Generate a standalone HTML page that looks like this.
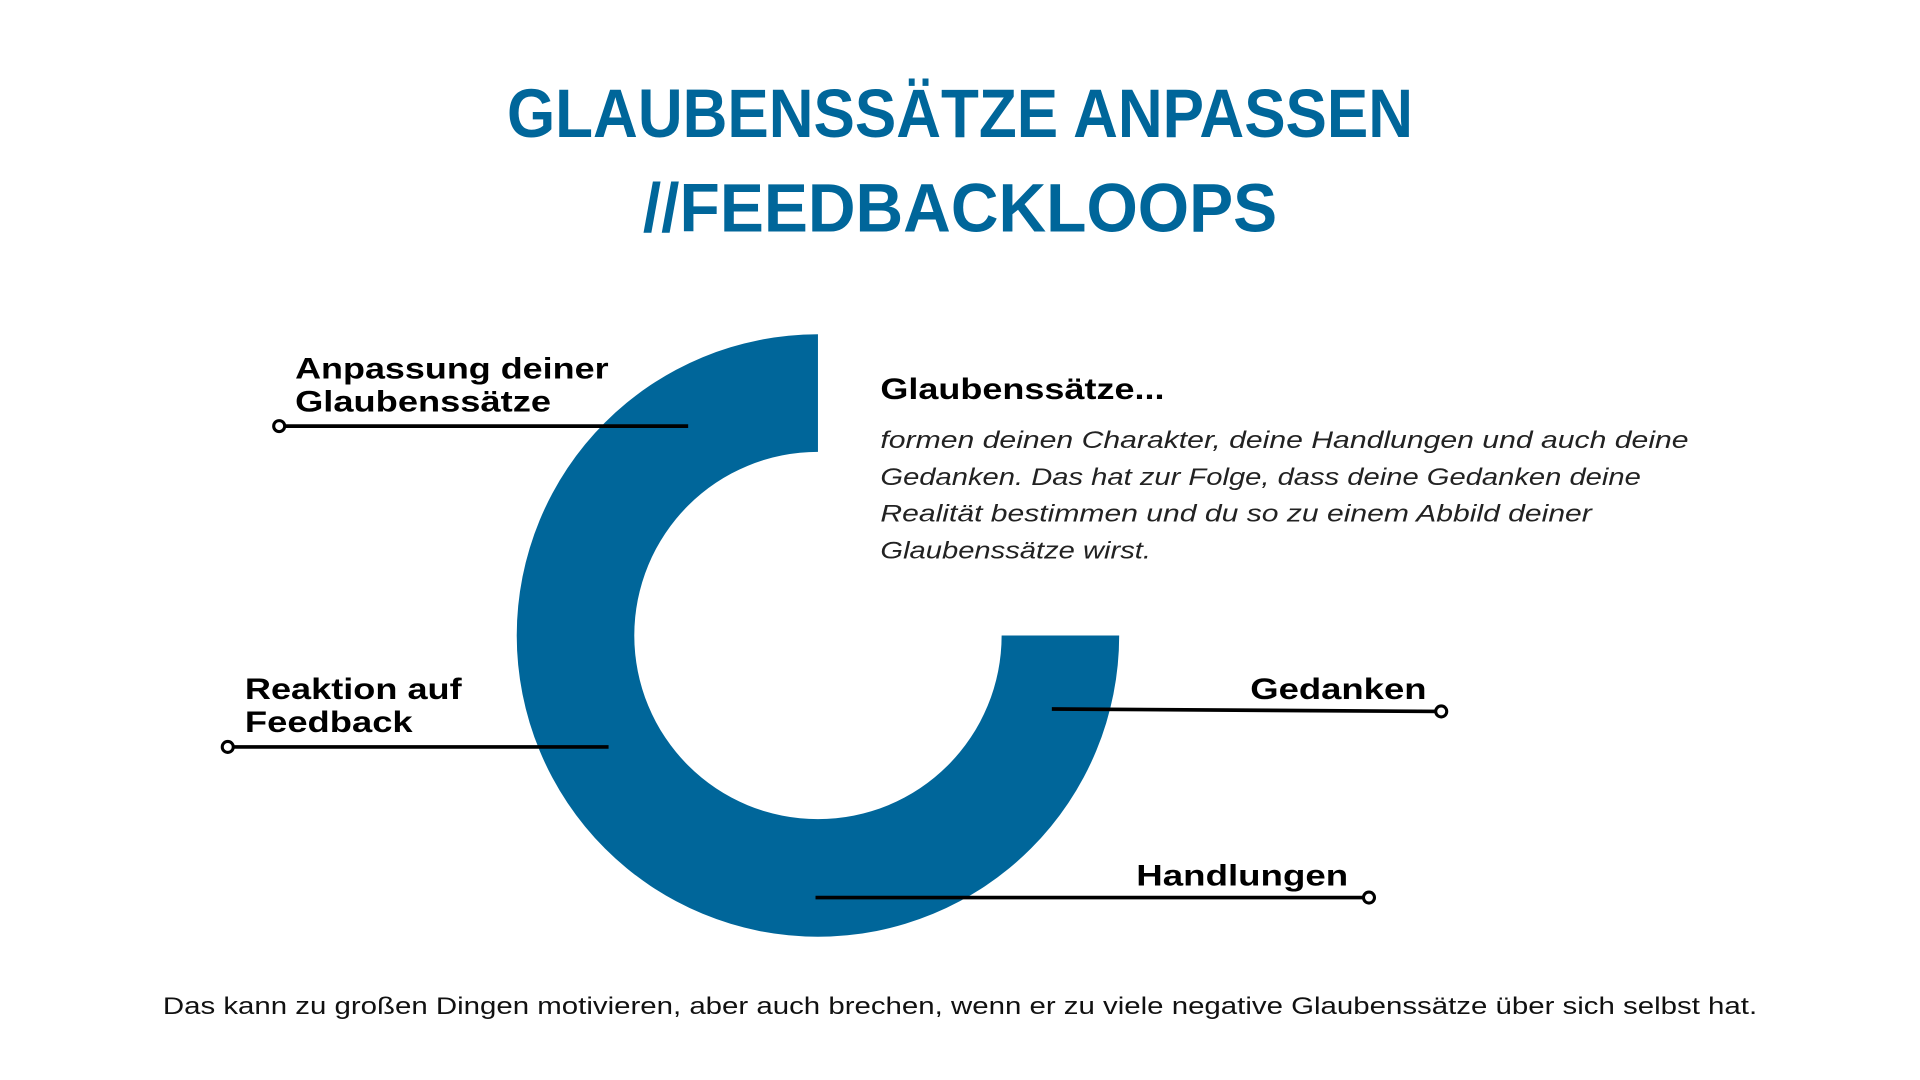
<!DOCTYPE html>
<html><head><meta charset="utf-8"><style>
html,body{margin:0;padding:0;background:#fff;width:1920px;height:1080px;overflow:hidden}
svg{display:block}
text{font-family:"Liberation Sans",sans-serif}
</style></head><body>
<svg id="chart" width="1920" height="1080" viewBox="0 0 1568 882" xmlns="http://www.w3.org/2000/svg">
<rect width="1568" height="882" fill="#fff"/>
<g fill="#00669a" font-weight="bold">
<text x="784" y="112" text-anchor="middle" font-size="56" textLength="740" lengthAdjust="spacingAndGlyphs">GLAUBENSSÄTZE ANPASSEN</text>
<text x="784" y="189" text-anchor="middle" font-size="56" textLength="518" lengthAdjust="spacingAndGlyphs">//FEEDBACKLOOPS</text>
</g>
<g id="donut"></g>
<g stroke="#000" stroke-width="3">
<line x1="228" y1="348" x2="562" y2="348"/>
<circle cx="228" cy="348" r="4.5" fill="#fff" stroke-width="2.5"/>
<line x1="186" y1="610" x2="497" y2="610"/>
<circle cx="186" cy="610" r="4.5" fill="#fff" stroke-width="2.5"/>
<line x1="859" y1="579" x2="1177" y2="581"/>
<circle cx="1177" cy="581" r="4.5" fill="#fff" stroke-width="2.5"/>
<line x1="666" y1="733" x2="1118" y2="733"/>
<circle cx="1118" cy="733" r="4.5" fill="#fff" stroke-width="2.5"/>
</g>
<g font-weight="bold" font-size="24" fill="#000">
<text x="241" y="309" textLength="256" lengthAdjust="spacingAndGlyphs">Anpassung deiner</text>
<text x="241" y="336" textLength="209" lengthAdjust="spacingAndGlyphs">Glaubenssätze</text>
<text x="200" y="571" textLength="177" lengthAdjust="spacingAndGlyphs">Reaktion auf</text>
<text x="200" y="598" textLength="137" lengthAdjust="spacingAndGlyphs">Feedback</text>
<text x="1021" y="571" textLength="144" lengthAdjust="spacingAndGlyphs">Gedanken</text>
<text x="928" y="723" textLength="173" lengthAdjust="spacingAndGlyphs">Handlungen</text>
<text x="719" y="326" textLength="232" lengthAdjust="spacingAndGlyphs">Glaubenssätze...</text>
</g>
<g font-style="italic" font-size="20" fill="#222">
<text x="719" y="366" textLength="660" lengthAdjust="spacingAndGlyphs">formen deinen Charakter, deine Handlungen und auch deine</text>
<text x="719" y="396" textLength="621" lengthAdjust="spacingAndGlyphs">Gedanken. Das hat zur Folge, dass deine Gedanken deine</text>
<text x="719" y="426" textLength="581" lengthAdjust="spacingAndGlyphs">Realität bestimmen und du so zu einem Abbild deiner</text>
<text x="719" y="456" textLength="221" lengthAdjust="spacingAndGlyphs">Glaubenssätze wirst.</text>
</g>
<text x="784" y="828" text-anchor="middle" font-size="20" fill="#111" textLength="1302" lengthAdjust="spacingAndGlyphs">Das kann zu großen Dingen motivieren, aber auch brechen, wenn er zu viele negative Glaubenssätze über sich selbst hat.</text>
</svg>
<script>
const segmentLabels = ["Glaubenssätze-Kreislauf"];
const segmentValues = [75];
const totalValue = 100;
const cx = 668, cy = 519, rOut = 246, rIn = 150;
function angleScale(v){ return -Math.PI/2 - (v/totalValue)*2*Math.PI; } // counterclockwise from 12 o'clock
function pt(r,a){ return [cx + r*Math.cos(a), cy + r*Math.sin(a)]; }
const g = document.getElementById('donut');
let acc = 0;
segmentValues.forEach((v,i)=>{
  const a0 = angleScale(acc), a1 = angleScale(acc+v);
  const large = v/totalValue > 0.5 ? 1 : 0;
  const p0 = pt(rOut,a0), p1 = pt(rOut,a1), p2 = pt(rIn,a1), p3 = pt(rIn,a0);
  const d = `M${p0[0]},${p0[1]} A${rOut},${rOut} 0 ${large} 0 ${p1[0]},${p1[1]} L${p2[0]},${p2[1]} A${rIn},${rIn} 0 ${large} 1 ${p3[0]},${p3[1]} Z`;
  const path = document.createElementNS('http://www.w3.org/2000/svg','path');
  path.setAttribute('d', d);
  path.setAttribute('fill', '#00669a');
  
  
  g.appendChild(path);
  acc += v;
});
</script>
</body></html>
